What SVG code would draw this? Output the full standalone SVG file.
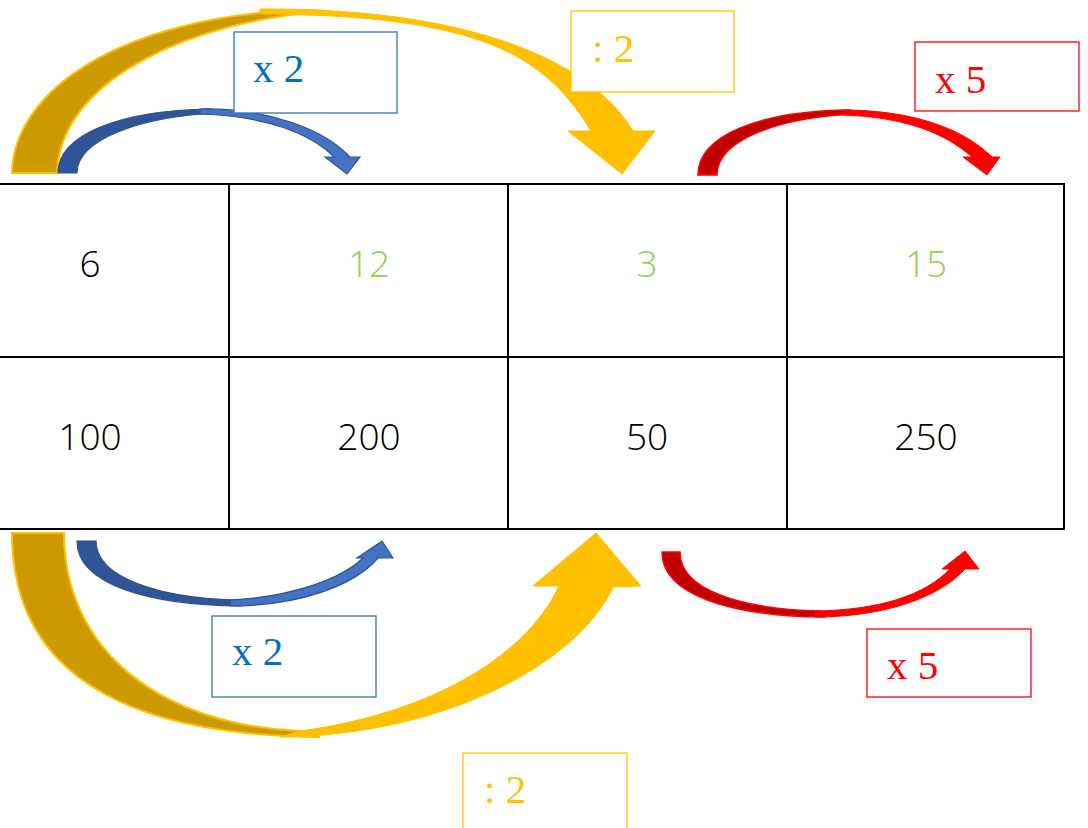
<svg xmlns="http://www.w3.org/2000/svg" width="1088" height="828" viewBox="0 0 1088 828">
<style>
.grid{stroke:#000;stroke-width:2;fill:none}
.num{font-family:"Open Sans","Liberation Sans",sans-serif;font-weight:300;font-size:37px;text-anchor:middle}
.blk{fill:#000}
.grn{fill:#92D050}
.lbl{font-family:"Liberation Serif","Times New Roman",serif;font-size:41px}
.box{fill:#fff;stroke-width:1.3}
.gD{fill:#CC9900;stroke:#FFC000;stroke-width:2}
.gB{fill:#FFC000;stroke:#FFC000;stroke-width:1}
.bD{fill:#2F5597;stroke:#2F528F;stroke-width:1.2}
.bB{fill:#4472C4;stroke:#2F528F;stroke-width:1.2}
.rD{fill:#C00000;stroke:#FF0000;stroke-width:1.5}
.rB{fill:#FF0000;stroke:#FF0000;stroke-width:1}
</style>
<rect width="1088" height="828" fill="#fff"/>
<g id="table">
<path class="grid" d="M0,184 H1064 V529 H0 M0,357 H1064 M229,184 V529 M508,184 V529 M787,184 V529"/>
</g>
<g id="cells">
<g id="c11"><text class="num blk" x="90" y="277">6</text></g>
<g id="c12"><text class="num grn" x="369" y="277">12</text></g>
<g id="c13"><text class="num grn" x="647" y="277">3</text></g>
<g id="c14"><text class="num grn" x="926" y="277">15</text></g>
<g id="c21"><text class="num blk" x="90" y="450">100</text></g>
<g id="c22"><text class="num blk" x="369" y="450">200</text></g>
<g id="c23"><text class="num blk" x="647" y="450">50</text></g>
<g id="c24"><text class="num blk" x="926" y="450">250</text></g>
</g>
<g id="connectors">
<g id="gold-top">
<path class="gD" d="M12,173 C14,90 120,18 300,10 L330,11 C190,20 60,80 57,173 Z"/>
<path class="gB" d="M260,9 C470,8 590,60 633,131 L655,131 L622,174 L568,131 L591,131 C545,55 480,15 260,14 Z"/>
</g>
<g id="blue-top">
<path class="bD" d="M58,173 C58,135 120,110 210,109 L220,113 C140,116 77,140 77,173 Z"/>
<path class="bB" d="M200,109 C270,108 325,130 350,157 L360,157 L347,174 L325,157 L334,157 C310,133 265,116 200,114 Z"/>
</g>
<g id="red-top">
<path class="rD" d="M698,175 C698,135 760,111 850,110 L860,114 C780,116 717,140 717,175 Z"/>
<path class="rB" d="M843,110 C915,110 965,130 992,157 L1000,157 L987,175 L963,157 L972,157 C945,133 905,117 843,115 Z"/>
</g>
<g id="gold-bottom">
<path class="gD" d="M12,533 C12,670 120,735 320,737 L300,731 C160,725 64,650 64,533 Z"/>
<path class="gB" d="M280,737 C450,735 580,660 613,587 L641,586 L596,533 L533,586 L559,586 C530,650 440,712 300,731 Z"/>
</g>
<g id="blue-bottom">
<path class="bD" d="M77,541 C77,585 150,605 240,606 L235,600 C160,598 96,578 96,541 Z"/>
<path class="bB" d="M230,606 C300,606 355,585 378,558 L393,558 L382,541 L357,558 L363,558 C340,580 290,597 230,600 Z"/>
</g>
<g id="red-bottom">
<path class="rD" d="M662,552 C662,595 730,616 825,617 L820,611 C740,609 680,590 680,552 Z"/>
<path class="rB" d="M815,617 C885,617 940,597 965,569 L979,569 L965,551 L942,569 L950,569 C925,595 880,610 815,611 Z"/>
</g>
</g>
<g id="label-x2-top">
<rect class="box" x="234" y="32" width="163" height="81" stroke="#2E75B6"/>
<text class="lbl" x="253" y="82" fill="#0070C0">x 2</text>
</g>
<g id="label-div2-top">
<rect class="box" x="571" y="11" width="163" height="81" stroke="#FFC000"/>
<text class="lbl" x="592" y="62" fill="#FFC000">: 2</text>
</g>
<g id="label-x5-top">
<rect class="box" x="915" y="42" width="164" height="69" stroke="#FF0000"/>
<text class="lbl" x="935" y="93" fill="#FF0000">x 5</text>
</g>
<g id="label-x2-bottom">
<rect class="box" x="212" y="616" width="164" height="81" stroke="#2E75B6"/>
<text class="lbl" x="232" y="665" fill="#0070C0">x 2</text>
</g>
<g id="label-x5-bottom">
<rect class="box" x="867" y="629" width="164" height="68" stroke="#FF0000"/>
<text class="lbl" x="887" y="679" fill="#FF0000">x 5</text>
</g>
<g id="label-div2-bottom">
<rect class="box" x="463" y="753" width="164" height="90" stroke="#FFC000"/>
<text class="lbl" x="484" y="803" fill="#FFC000">: 2</text>
</g>
</svg>
